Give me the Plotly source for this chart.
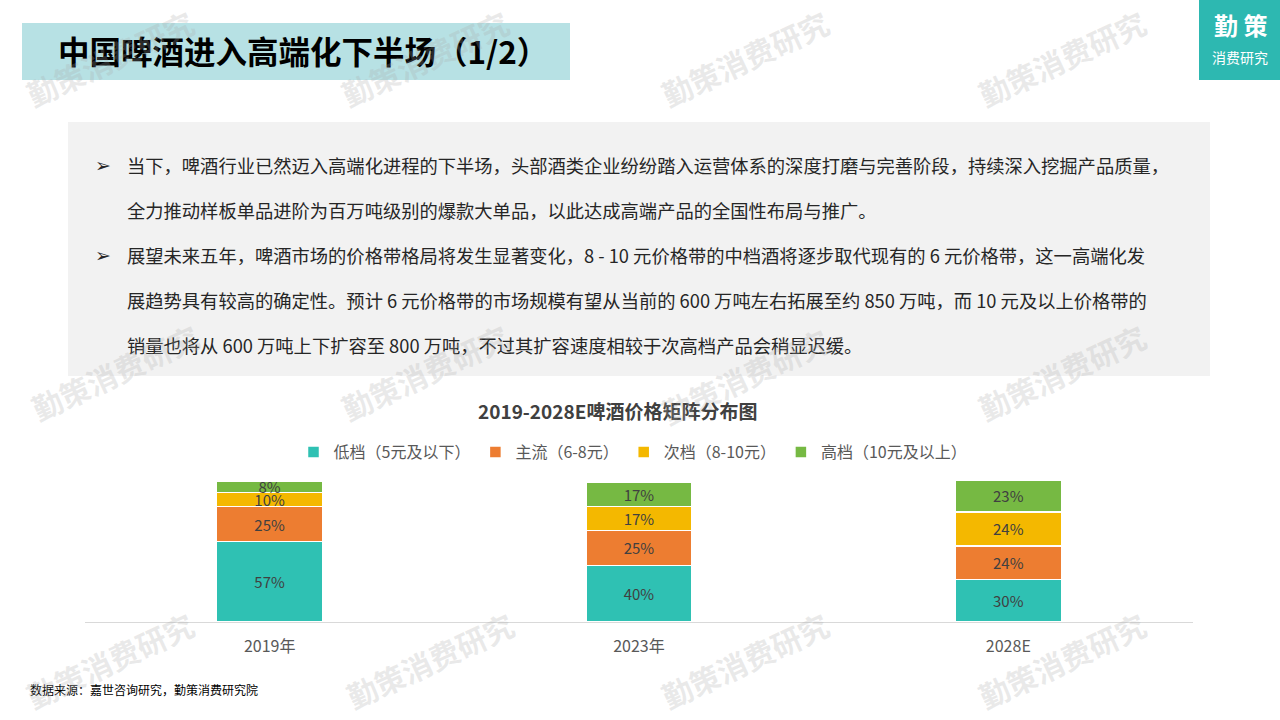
import plotly.graph_objects as go

# ---------------- data ----------------
categories = ["2019年", "2023年", "2028E"]
series_names = ["低档（5元及以下）", "主流（6-8元）", "次档（8-10元）", "高档（10元及以上）"]
low = [57, 40, 30]
main = [25, 25, 24]
mid = [10, 17, 24]
high = [8, 17, 23]
series_values = [low, main, mid, high]
series_colors = ["#2FC1B3", "#ED7D31", "#F4B800", "#76B943"]

title_text = "中国啤酒进入高端化下半场（1/2）"
chart_title = "2019-2028E啤酒价格矩阵分布图"
body_lines = [
    "当下，啤酒行业已然迈入高端化进程的下半场，头部酒类企业纷纷踏入运营体系的深度打磨与完善阶段，持续深入挖掘产品质量，",
    "全力推动样板单品进阶为百万吨级别的爆款大单品，以此达成高端产品的全国性布局与推广。",
    "展望未来五年，啤酒市场的价格带格局将发生显著变化，8 - 10 元价格带的中档酒将逐步取代现有的 6 元价格带，这一高端化发",
    "展趋势具有较高的确定性。预计 6 元价格带的市场规模有望从当前的 600 万吨左右拓展至约 850 万吨，而 10 元及以上价格带的",
    "销量也将从 600 万吨上下扩容至 800 万吨，不过其扩容速度相较于次高档产品会稍显迟缓。",
]
bullet_lines = [0, 2]
source_text = "数据来源：嘉世咨询研究，勤策消费研究院"
watermark = "勤策消费研究"

# ---------------- layout geometry ----------------
W, H = 1280, 720
PL, PR, PT, PB = 85, 1193, 481, 622  # plot area in pixels

FONT = "Noto Sans CJK SC"


def px(x):
    return (x - PL) / (PR - PL)


def py(y):
    return (PB - y) / (PB - PT)


fig = go.Figure()
for name, vals, col in zip(series_names, series_values, series_colors):
    fig.add_trace(go.Bar(
        x=categories, y=vals, name=name,
        marker=dict(color=col, line=dict(color="white", width=1.5)),
        width=0.287,
        text=[f"{v}%" for v in vals],
        textposition="inside", insidetextanchor="middle", textangle=0,
        textfont=dict(family=FONT, size=15, color="#404040"),
        hoverinfo="skip",
    ))

shapes = [
    # title band
    dict(type="rect", xref="paper", yref="paper", x0=px(22), x1=px(570), y0=py(23), y1=py(80),
         fillcolor="#B7E1E4", line=dict(width=0), layer="below"),
    # logo box
    dict(type="rect", xref="paper", yref="paper", x0=px(1199), x1=px(1280), y0=py(0), y1=py(80),
         fillcolor="#2DB8B1", line=dict(width=0), layer="below"),
    # grey text box
    dict(type="rect", xref="paper", yref="paper", x0=px(68), x1=px(1210), y0=py(122), y1=py(376),
         fillcolor="#F2F2F2", line=dict(width=0), layer="below"),
]

annotations = []
# title
annotations.append(dict(text=title_text, x=px(56), y=py(50), xref="paper", yref="paper",
                        xanchor="left", yanchor="middle", showarrow=False,
                        font=dict(family=FONT, size=31.5, color="#000000", weight="bold")))
# logo
annotations.append(dict(text="勤 策", x=px(1240), y=py(25), xref="paper", yref="paper",
                        xanchor="center", yanchor="middle", showarrow=False,
                        font=dict(family=FONT, size=24, color="white", weight="bold")))
annotations.append(dict(text="消费研究", x=px(1240), y=py(57), xref="paper", yref="paper",
                        xanchor="center", yanchor="middle", showarrow=False,
                        font=dict(family=FONT, size=14, color="white")))
# body text
line_y = [165, 210, 255, 300, 345]
for i, (t, yy) in enumerate(zip(body_lines, line_y)):
    annotations.append(dict(text=t, x=px(125), y=py(yy), xref="paper", yref="paper",
                            xanchor="left", yanchor="middle", showarrow=False,
                            font=dict(family=FONT, size=18.3, color="#262626")))
    if i in bullet_lines:
        annotations.append(dict(text="➢", x=px(103), y=py(yy), xref="paper", yref="paper",
                                xanchor="center", yanchor="middle", showarrow=False,
                                font=dict(family="DejaVu Sans", size=19, color="#262626")))
# chart title
annotations.append(dict(text=chart_title, x=px(617), y=py(410), xref="paper", yref="paper",
                        xanchor="center", yanchor="middle", showarrow=False,
                        font=dict(family=FONT, size=19, color="#404040", weight="bold")))
# source
annotations.append(dict(text=source_text, x=px(28), y=py(689), xref="paper", yref="paper",
                        xanchor="left", yanchor="middle", showarrow=False,
                        font=dict(family=FONT, size=12, color="#000000")))
# watermarks
wm_pos = [(110, 58), (425, 58), (745, 58), (1062, 58),
          (115, 372), (425, 372), (745, 376), (1062, 372),
          (110, 660), (430, 660), (745, 660), (1062, 660)]
for (wx, wy) in wm_pos:
    annotations.append(dict(text=watermark, x=px(wx), y=py(wy), xref="paper", yref="paper",
                            xanchor="center", yanchor="middle", showarrow=False, textangle=-25,
                            font=dict(family=FONT, size=30, color="rgba(170,170,170,0.25)", weight="bold")))

fig.update_layout(
    width=W, height=H,
    margin=dict(l=PL, r=W - PR, t=PT, b=H - PB, pad=0),
    paper_bgcolor="white", plot_bgcolor="white",
    barmode="stack",
    bargap=0.713,
    showlegend=True,
    legend=dict(orientation="h", x=px(633), xanchor="center", y=py(452), yanchor="middle",
                traceorder="normal", font=dict(family=FONT, size=16, color="#595959"),
                bgcolor="rgba(0,0,0,0)", itemclick=False, itemdoubleclick=False),
    uniformtext=dict(minsize=15, mode="show"),
    xaxis=dict(showline=True, linecolor="#D9D9D9", linewidth=1, ticks="", showgrid=False,
               ticklabelstandoff=10,
               tickfont=dict(family=FONT, size=16, color="#595959"), fixedrange=True),
    yaxis=dict(visible=False, range=[0, 100], fixedrange=True, showgrid=False),
    shapes=shapes,
    annotations=annotations,
    font=dict(family=FONT),
)

fig.write_html("out.html", config={"displayModeBar": False},
               post_script="document.body.style.margin='0px';document.body.style.overflow='hidden';")
